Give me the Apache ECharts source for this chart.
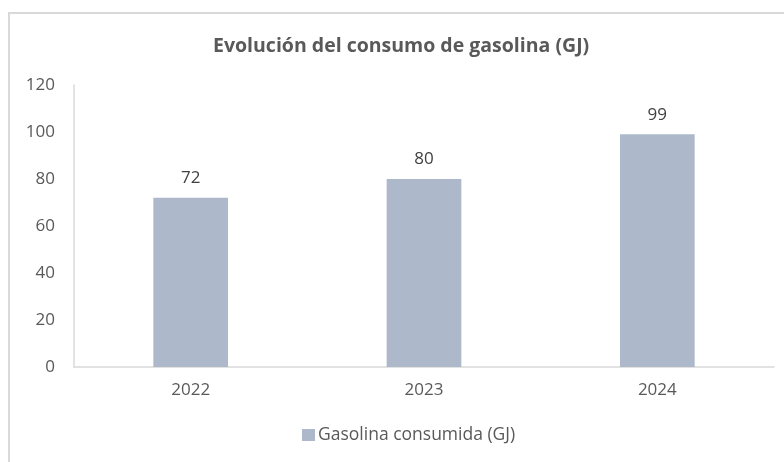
<!DOCTYPE html>
<html lang="es">
<head>
    <meta charset="utf-8">
    <title>Evolución del consumo de gasolina (GJ)</title>
    <script src="https://cdn.jsdelivr.net/npm/echarts@6/dist/echarts.min.js"></script>
    <style>
        html, body { margin: 0; padding: 0; background: #fff; }
        #frame {
            position: absolute; left: 8px; top: 12px; width: 800px; height: 480px;
            border-left: 2px solid #d9d9d9; border-top: 2px solid #d9d9d9;
        }
        #chart { position: absolute; left: 0; top: 0; width: 784px; height: 462px; }
    </style>
</head>
<body>
<div id="frame"></div>
<div id="chart"></div>
<script type="text/javascript">
    var years = ['2022', '2023', '2024'];
    var consumo = [72, 80, 99];
    var seriesName = 'Gasolina consumida (GJ)';

    var fontFam = '"Open Sans", "Noto Sans", sans-serif';
    var chart = echarts.init(document.getElementById('chart'));
    chart.setOption({
        animation: false,
        title: {
            text: 'Evolución del consumo de gasolina (GJ)',
            left: 208,
            top: 31,
            textStyle: { fontFamily: fontFam, fontSize: 19.5, fontWeight: 'bold', color: '#595959' }
        },
        legend: {
            bottom: 13,
            left: 297,
            itemWidth: 13,
            itemHeight: 12,
            itemGap: 4,
            icon: 'rect',
            textStyle: { fontFamily: fontFam, fontSize: 17.5, color: '#595959', padding: [0, 0, 0, -2] },
            data: [seriesName]
        },
        grid: { left: 74, right: 10, top: 85, bottom: 95 },
        xAxis: {
            type: 'category',
            data: years,
            axisLine: { lineStyle: { color: '#d9d9d9', width: 1.5 } },
            axisTick: { show: false },
            axisLabel: { fontFamily: fontFam, fontSize: 17, color: '#595959', margin: 15 }
        },
        yAxis: {
            type: 'value',
            min: 0,
            max: 120,
            interval: 20,
            axisLine: { show: true, lineStyle: { color: '#d9d9d9', width: 1.5 } },
            axisTick: { show: false },
            splitLine: { show: false },
            axisLabel: { fontFamily: fontFam, fontSize: 17, color: '#595959', margin: 19 }
        },
        series: [{
            name: seriesName,
            type: 'bar',
            data: consumo,
            barWidth: '32%',
            itemStyle: { color: '#adb9ca' },
            label: {
                show: true,
                position: 'top',
                distance: 11,
                fontFamily: fontFam,
                fontSize: 17,
                color: '#404040'
            }
        }]
    });
</script>
</body>
</html>
